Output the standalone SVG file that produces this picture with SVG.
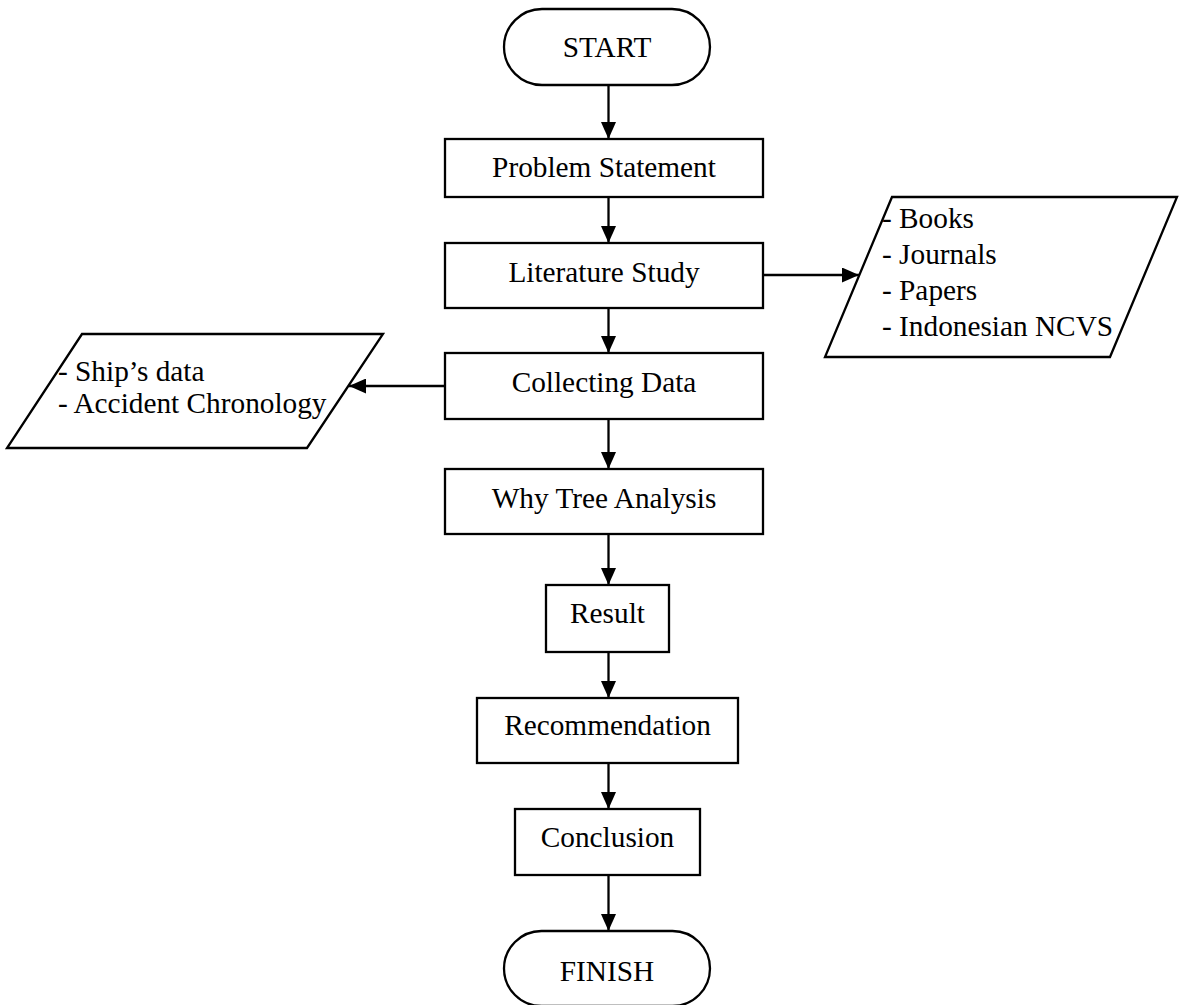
<svg xmlns="http://www.w3.org/2000/svg" width="1182" height="1005" viewBox="0 0 1182 1005">
<defs>
<style>
.shape{fill:#fff;stroke:#000;stroke-width:2.3}
.lbl{font-family:"Liberation Serif","Times New Roman",serif;font-size:29.3px;fill:#000}
.c{text-anchor:middle}
.conn{stroke:#000;stroke-width:2.3;fill:none;marker-end:url(#arr)}
</style>
<marker id="arr" viewBox="0 0 17 15" refX="17" refY="7.5" markerWidth="17" markerHeight="15" markerUnits="userSpaceOnUse" orient="auto">
<path d="M0,0 L17,7.5 L0,15 Z" fill="#000"/>
</marker>
</defs>
<rect width="1182" height="1005" fill="#fff"/>
<g id="connectors">
<line class="conn" x1="608.5" y1="85" x2="608.5" y2="139"/>
<line class="conn" x1="608.5" y1="197" x2="608.5" y2="243"/>
<line class="conn" x1="608.5" y1="308" x2="608.5" y2="353"/>
<line class="conn" x1="608.5" y1="419" x2="608.5" y2="469"/>
<line class="conn" x1="608.5" y1="534" x2="608.5" y2="585"/>
<line class="conn" x1="608.5" y1="652" x2="608.5" y2="698"/>
<line class="conn" x1="608.5" y1="763" x2="608.5" y2="809"/>
<line class="conn" x1="608.5" y1="875" x2="608.5" y2="931"/>
<line class="conn" x1="763" y1="275" x2="859" y2="275"/>
<line class="conn" x1="445" y1="386" x2="349" y2="386"/>
</g>
<g id="start">
<rect class="shape" x="504" y="9" width="206" height="76" rx="38" ry="38"/>
<text class="lbl c" x="607" y="57">START</text>
</g>
<g id="problem">
<rect class="shape" x="445" y="139" width="318" height="58"/>
<text class="lbl c" x="604" y="177">Problem Statement</text>
</g>
<g id="literature">
<rect class="shape" x="445" y="243" width="318" height="65"/>
<text class="lbl c" x="604" y="282">Literature Study</text>
</g>
<g id="sources">
<polygon class="shape" points="892,197 1177,197 1110,357 825,357"/>
<text class="lbl" x="882" y="228">- Books</text>
<text class="lbl" x="882" y="264">- Journals</text>
<text class="lbl" x="882" y="300">- Papers</text>
<text class="lbl" x="882" y="336">- Indonesian NCVS</text>
</g>
<g id="collecting">
<rect class="shape" x="445" y="353" width="318" height="66"/>
<text class="lbl c" x="604" y="392">Collecting Data</text>
</g>
<g id="data">
<polygon class="shape" points="82,334 383,334 307,448 7,448"/>
<text class="lbl" x="58" y="381">- Ship’s data</text>
<text class="lbl" x="58" y="413">- Accident Chronology</text>
</g>
<g id="whytree">
<rect class="shape" x="445" y="469" width="318" height="65"/>
<text class="lbl c" x="604" y="508">Why Tree Analysis</text>
</g>
<g id="result">
<rect class="shape" x="546" y="585" width="123" height="67"/>
<text class="lbl c" x="607.5" y="623">Result</text>
</g>
<g id="recommendation">
<rect class="shape" x="477" y="698" width="261" height="65"/>
<text class="lbl c" x="607.5" y="735">Recommendation</text>
</g>
<g id="conclusion">
<rect class="shape" x="515" y="809" width="185" height="66"/>
<text class="lbl c" x="607.5" y="847">Conclusion</text>
</g>
<g id="finish">
<rect class="shape" x="504" y="931" width="206" height="75" rx="37.5" ry="37.5"/>
<text class="lbl c" x="607" y="981">FINISH</text>
</g>
</svg>
